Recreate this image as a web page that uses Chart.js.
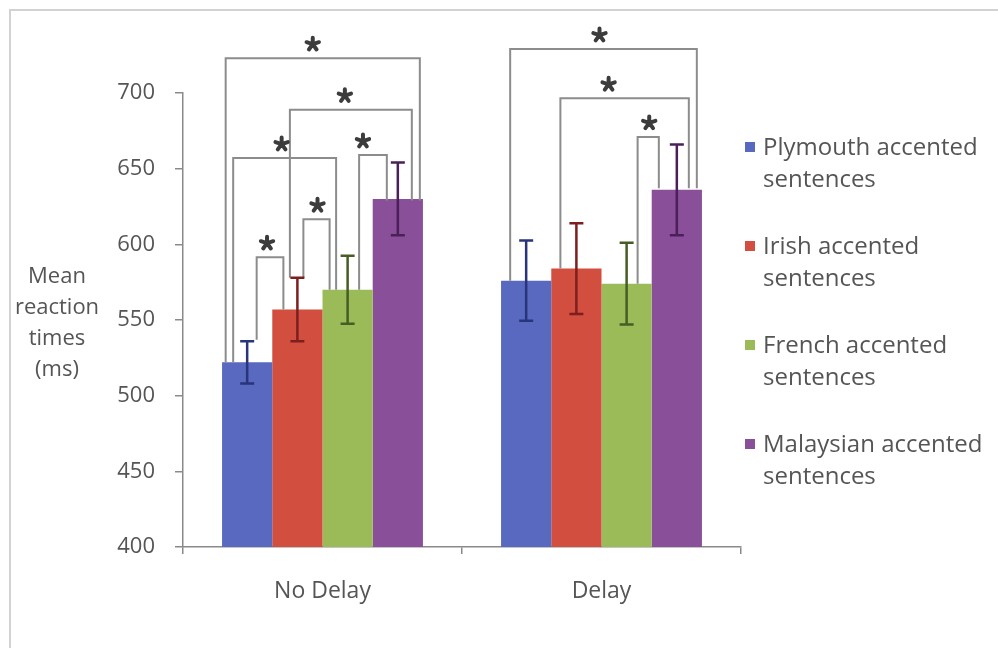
<!DOCTYPE html>
<html>
<head>
<meta charset="utf-8">
<script src="https://cdn.jsdelivr.net/npm/chart.js@4.4.0/dist/chart.umd.min.js"></script>
<style>
  html, body { margin: 0; background: #fff; }
  #wrap { width: 998px; height: 648px; }
</style>
</head>
<body>
<div id="wrap"><canvas id="grafico" width="998" height="648"></canvas></div>
<script>
// categorias e series
const categorias = ['No Delay', 'Delay'];
const nomesSeries = [
  'Plymouth accented sentences',
  'Irish accented sentences',
  'French accented sentences',
  'Malaysian accented sentences'
];

// medias (ms)
const plymouth = [522, 576];
const irish = [557, 584];
const french = [570, 574];
const malaysian = [630, 636];

// erro (+/- ms)
const plymouthErro = [14, 26.5];
const irishErro = [21, 30];
const frenchErro = [22.5, 27];
const malaysianErro = [24, 30];

// eixo y
const yMin = 400;
const yMax = 700;
const yPasso = 50;

// comparacoes significativas: [categoria, serie A, serie B]
const pares = [
  [0, 0, 3], [0, 1, 3], [0, 0, 2], [0, 2, 3], [0, 0, 1], [0, 1, 2],
  [1, 0, 3], [1, 1, 3], [1, 2, 3]
];
// altura da barra horizontal de cada comparacao (ms)
const alturasPar = [723, 689, 657, 659, 591.5, 616.5, 729, 696.5, 671];
// onde cada perna termina (ms): [perna A, perna B]
const fimPernas = [
  [522, 629], [578, 629], [522, 570], [570, 629], [537, 557], [578, 570],
  [576, 637], [584, 637], [574, 637]
];

// deslocamento das pernas em px a partir do centro da barra
const deslocPernas = [
  [-21.5, 22], [-7.5, 14], [-14, -11.5], [11.5, -11], [9.5, -14], [6, -18],
  [-16, 20], [-16, 12], [11, -18]
];
const deslocEstrela = [-10, -6, -3, -10, -3, 1, -4, -16, 1];

const coresBarra = ['#5869bf', '#d24e3e', '#9bbb59', '#8a4f99'];
const coresErro = ['#28357a', '#7d1f1f', '#465d24', '#4a2059'];
const corTexto = '#555555';
const corEixo = '#8a8a8a';
const fonte = '"Open Sans", sans-serif';

const valores = [plymouth, irish, french, malaysian];
const erros = [plymouthErro, irishErro, frenchErro, malaysianErro];

const moldura = {
  id: 'moldura',
  beforeDraw(chart) {
    const { ctx, width, height } = chart;
    ctx.save();
    ctx.fillStyle = '#fff';
    ctx.fillRect(0, 0, width, height);
    ctx.strokeStyle = '#d2d2d2';
    ctx.lineWidth = 2;
    ctx.beginPath();
    ctx.moveTo(10, height);
    ctx.lineTo(10, 10);
    ctx.lineTo(width, 10);
    ctx.stroke();
    ctx.restore();
  }
};

function estrela(ctx, x, y, r) {
  ctx.beginPath();
  for (let k = 0; k < 5; k++) {
    const a = -Math.PI / 2 + k * 2 * Math.PI / 5;
    ctx.moveTo(x, y);
    ctx.lineTo(x + r * Math.cos(a), y + r * Math.sin(a));
  }
  ctx.stroke();
}

const comparacoes = {
  id: 'comparacoes',
  afterDatasetsDraw(chart) {
    const { ctx } = chart;
    const y = chart.scales.y;
    ctx.save();
    ctx.strokeStyle = '#8c8c8c';
    ctx.lineWidth = 2;
    pares.forEach((p, i) => {
      const [cat, a, b] = p;
      const xa = chart.getDatasetMeta(a).data[cat].x + deslocPernas[i][0];
      const xb = chart.getDatasetMeta(b).data[cat].x + deslocPernas[i][1];
      const yt = y.getPixelForValue(alturasPar[i]);
      ctx.beginPath();
      ctx.moveTo(xa, y.getPixelForValue(fimPernas[i][0]));
      ctx.lineTo(xa, yt);
      ctx.lineTo(xb, yt);
      ctx.lineTo(xb, y.getPixelForValue(fimPernas[i][1]));
      ctx.stroke();
    });
    ctx.strokeStyle = '#3c3c3c';
    ctx.lineWidth = 4;
    ctx.lineCap = 'round';
    pares.forEach((p, i) => {
      const [cat, a, b] = p;
      const xa = chart.getDatasetMeta(a).data[cat].x + deslocPernas[i][0];
      const xb = chart.getDatasetMeta(b).data[cat].x + deslocPernas[i][1];
      const yt = y.getPixelForValue(alturasPar[i]);
      estrela(ctx, (xa + xb) / 2 + deslocEstrela[i], yt - 14, 6.5);
    });

    // barras de erro
    ctx.lineCap = 'butt';
    ctx.lineWidth = 2.5;
    valores.forEach((serie, s) => {
      const meta = chart.getDatasetMeta(s);
      serie.forEach((v, j) => {
        const x = meta.data[j].x;
        const y1 = y.getPixelForValue(v + erros[s][j]);
        const y2 = y.getPixelForValue(v - erros[s][j]);
        ctx.strokeStyle = coresErro[s];
        ctx.beginPath();
        ctx.moveTo(x, y1);
        ctx.lineTo(x, y2);
        ctx.moveTo(x - 7, y1);
        ctx.lineTo(x + 7, y1);
        ctx.moveTo(x - 7, y2);
        ctx.lineTo(x + 7, y2);
        ctx.stroke();
      });
    });
    ctx.restore();
  }
};

const textos = {
  id: 'textos',
  afterDraw(chart) {
    const { ctx } = chart;
    ctx.save();
    ctx.fillStyle = corTexto;
    ctx.textAlign = 'center';
    ctx.textBaseline = 'middle';
    ctx.font = '22px ' + fonte;
    ['Mean', 'reaction', 'times', '(ms)'].forEach((t, i) => {
      ctx.fillText(t, 57, 277 + i * 31);
    });

    // legenda com quebra de linha
    ctx.textAlign = 'left';
    ctx.font = '24px ' + fonte;
    nomesSeries.forEach((nome, i) => {
      const corte = nome.lastIndexOf(' ');
      const linhas = [nome.slice(0, corte), nome.slice(corte + 1)];
      const y0 = 148 + i * 99;
      ctx.fillStyle = coresBarra[i];
      ctx.fillRect(745, y0 - 6, 10, 10);
      ctx.fillStyle = corTexto;
      linhas.forEach((l, k) => ctx.fillText(l, 763, y0 + k * 32));
    });
    ctx.restore();
  }
};

const grafico = new Chart(document.getElementById('grafico'), {
  type: 'bar',
  data: {
    labels: categorias,
    datasets: valores.map((serie, i) => ({
      label: nomesSeries[i],
      data: serie,
      backgroundColor: coresBarra[i],
      borderWidth: 0,
      categoryPercentage: 0.72,
      barPercentage: 1
    }))
  },
  options: {
    responsive: false,
    animation: false,
    layout: { padding: { left: 0, top: 93, right: 257, bottom: 41 } },
    plugins: {
      legend: { display: false },
      tooltip: { enabled: false }
    },
    scales: {
      x: {
        afterFit(scale) { scale.height = 60; },
        grid: { drawOnChartArea: false, drawTicks: true, tickLength: 7, color: corEixo, lineWidth: 1.5, offset: true },
        border: { color: corEixo, width: 1.5 },
        ticks: { color: corTexto, padding: 24, font: { family: fonte, size: 23 } }
      },
      y: {
        min: yMin,
        max: yMax,
        afterFit(scale) { scale.width = 183; },
        grid: { drawOnChartArea: false, drawTicks: true, tickLength: 8, color: corEixo, lineWidth: 1.5 },
        border: { color: corEixo, width: 1.5 },
        ticks: { stepSize: yPasso, color: corTexto, padding: 20, font: { family: fonte, size: 22 } }
      }
    }
  },
  plugins: [moldura, comparacoes, textos]
});
</script>
</body>
</html>
